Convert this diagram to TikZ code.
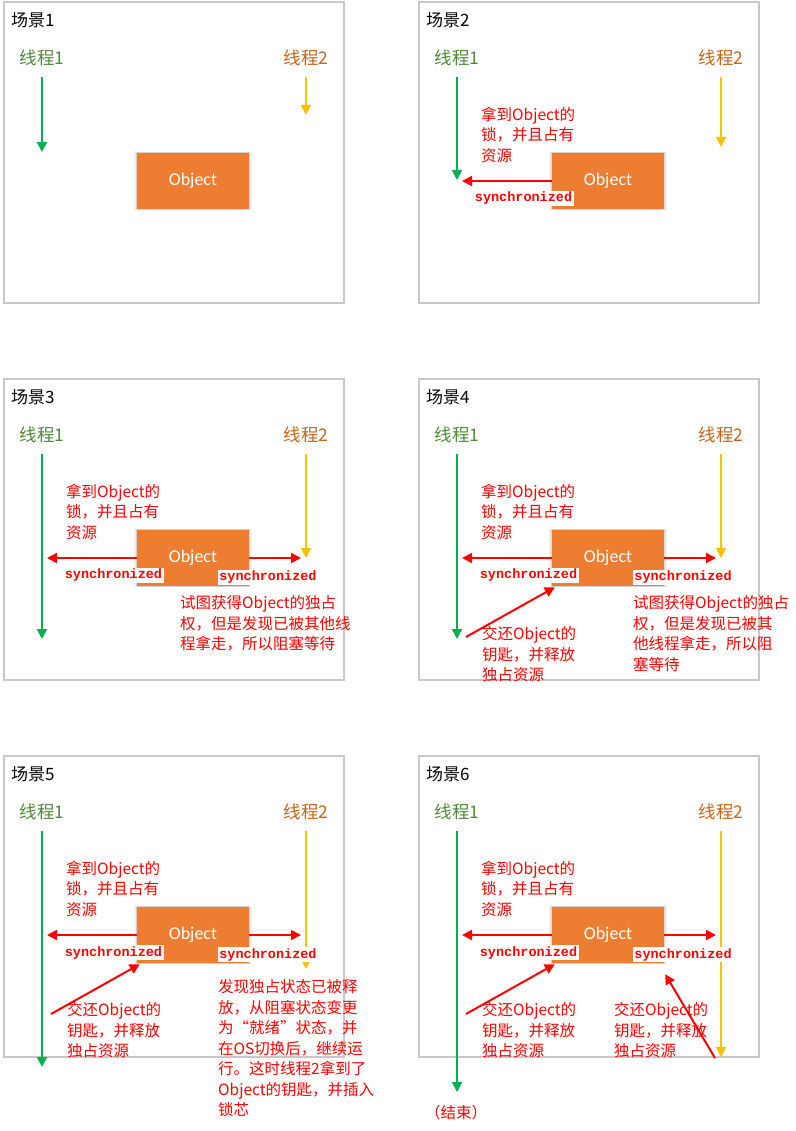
\documentclass[tikz,border=0pt]{standalone}
\usepackage{fontspec}
\usetikzlibrary{arrows.meta,shadows}
\newfontfamily\cjkf{Noto Sans CJK SC}
\newfontfamily\calf{Carlito}
\newfontfamily\monof{Liberation Mono}
\definecolor{boxgray}{HTML}{C8C8C8}
\definecolor{thgreen}{HTML}{00B050}
\definecolor{thyellow}{HTML}{FFC000}
\definecolor{lab1}{HTML}{4F8A3A}
\definecolor{lab2}{HTML}{C8651B}
\definecolor{objfill}{HTML}{ED7D31}
\tikzset{
  scenebox/.style={draw=boxgray, line width=2pt},
  title/.style={anchor=west, inner sep=0pt, font=\cjkf\fontsize{17}{20}\selectfont},
  th1lab/.style={inner sep=0pt, text=lab1, font=\cjkf\fontsize{17.5}{20}\selectfont},
  th2lab/.style={inner sep=0pt, text=lab2, font=\cjkf\fontsize{17.5}{20}\selectfont},
  thr1/.style={draw=thgreen, line width=2pt, -{Triangle[width=10pt,length=10pt]}},
  thr2/.style={draw=thyellow, line width=2pt, -{Triangle[width=10pt,length=10pt]}},
  objbox/.style={rectangle, fill=objfill, minimum width=112pt, minimum height=56pt, inner sep=0pt,
    text=white, font=\calf\fontsize{18}{20}\selectfont,
    drop shadow={shadow xshift=0pt,shadow yshift=0pt,shadow scale=1.05,fill=black,opacity=0.06},
    drop shadow={shadow xshift=0pt,shadow yshift=0pt,shadow scale=1.025,fill=black,opacity=0.12}},
  sync/.style={fill=white, text=red, inner sep=1.5pt, font=\monof\bfseries\fontsize{13.5}{15}\selectfont},
  note/.style={anchor=north west, inner sep=0pt, align=left, text=red, font=\cjkf\fontsize{15.5}{20.5}\selectfont},
  redarr/.style={draw=red, line width=2pt, -{Triangle[width=10pt,length=10pt]}},
}
\begin{document}
\begin{tikzpicture}[x=1pt,y=-1pt]
\useasboundingbox (0,0) rectangle (795,1131);
% ---------- Scene 1
\begin{scope}[shift={(4,2)}]
  \draw[scenebox] (0,0) rectangle (340,301);
  \node[title] (t1) at (7,18) {场景1};
  \node[th1lab] (a1) at (38,56) {线程1};
  \node[th2lab] (b1) at (302,56) {线程2};
  \coordinate (a1s) at (38,75); \coordinate (a1e) at (38,150);
  \coordinate (b1s) at (302,75); \coordinate (b1e) at (302,113);
  \draw[thr1] (a1s) -- (a1e);
  \draw[thr2] (b1s) -- (b1e);
  \node[objbox] (o1) at (189,179) {Object};
\end{scope}
% ---------- Scene 2
\begin{scope}[shift={(419,2)}]
  \draw[scenebox] (0,0) rectangle (340,301);
  \node[title] (t2) at (7,18) {场景2};
  \node[th1lab] (a2) at (38,56) {线程1};
  \node[th2lab] (b2) at (302,56) {线程2};
  \coordinate (a2s) at (38,75); \coordinate (a2e) at (38,178);
  \coordinate (b2s) at (302,75); \coordinate (b2e) at (302,145);
  \draw[thr1] (a2s) -- (a2e);
  \draw[thr2] (b2s) -- (b2e);
  \node[note] (n2) at (62,104.5) {拿到Object的\\锁，并且占有\\资源};
  \node[objbox] (o2) at (189,179) {Object};
  \coordinate (l2) at (43,179);
  \draw[redarr] (o2.west) -- (l2);
  \node[sync] (s2l) at (104.5,196.5) {synchronized};
\end{scope}
% ---------- Scene 3
\begin{scope}[shift={(4,379)}]
  \draw[scenebox] (0,0) rectangle (340,301);
  \node[title] (t3) at (7,18) {场景3};
  \node[th1lab] (a3) at (38,56) {线程1};
  \node[th2lab] (b3) at (302,56) {线程2};
  \coordinate (a3s) at (38,75); \coordinate (a3e) at (38,260);
  \coordinate (b3s) at (302,75); \coordinate (b3e) at (302,179);
  \draw[thr1] (a3s) -- (a3e);
  \draw[thr2] (b3s) -- (b3e);
  \node[note] (n3) at (62,104.5) {拿到Object的\\锁，并且占有\\资源};
  \node[objbox] (o3) at (189,179) {Object};
  \coordinate (l3) at (43,179); \coordinate (r3) at (297,179);
  \draw[redarr] (o3.west) -- (l3);
  \draw[redarr] (o3.east) -- (r3);
  \node[sync] (s3l) at (109.5,196.5) {synchronized};
  \node[sync] (s3r) at (264,198.5) {synchronized};
  \node[note] (m3) at (176,216.5) {试图获得Object的独占\\权，但是发现已被其他线\\程拿走，所以阻塞等待};
\end{scope}
% ---------- Scene 4
\begin{scope}[shift={(419,379)}]
  \draw[scenebox] (0,0) rectangle (340,301);
  \node[title] (t4) at (7,18) {场景4};
  \node[th1lab] (a4) at (38,56) {线程1};
  \node[th2lab] (b4) at (302,56) {线程2};
  \coordinate (a4s) at (38,75); \coordinate (a4e) at (38,260);
  \coordinate (b4s) at (302,75); \coordinate (b4e) at (302,179);
  \draw[thr1] (a4s) -- (a4e);
  \draw[thr2] (b4s) -- (b4e);
  \node[note] (n4) at (62,104.5) {拿到Object的\\锁，并且占有\\资源};
  \node[objbox] (o4) at (189,179) {Object};
  \coordinate (l4) at (43,179); \coordinate (r4) at (297,179);
  \draw[redarr] (o4.west) -- (l4);
  \draw[redarr] (o4.east) -- (r4);
  \node[sync] (s4l) at (109.5,196.5) {synchronized};
  \node[sync] (s4r) at (264,198.5) {synchronized};
  \node[note] (m4) at (214,216.5) {试图获得Object的独占\\权，但是发现已被其\\他线程拿走，所以阻\\塞等待};
  \node[note] (k4) at (63,247.5) {交还Object的\\钥匙，并释放\\独占资源};
  \coordinate (k4s) at (47,258);
  \draw[redarr] (k4s) -- ([shift={(3,1)}]o4.south west);
\end{scope}
% ---------- Scene 5
\begin{scope}[shift={(4,756)}]
  \draw[scenebox] (0,0) rectangle (340,301);
  \node[title] (t5) at (7,18) {场景5};
  \node[th1lab] (a5) at (38,56) {线程1};
  \node[th2lab] (b5) at (302,56) {线程2};
  \coordinate (a5s) at (38,75); \coordinate (a5e) at (38,311);
  \coordinate (b5s) at (302,75); \coordinate (b5e) at (302,213);
  \draw[thr1] (a5s) -- (a5e);
  \draw[thr2] (b5s) -- (b5e);
  \node[note] (n5) at (62,104.5) {拿到Object的\\锁，并且占有\\资源};
  \node[objbox] (o5) at (189,179) {Object};
  \coordinate (l5) at (43,179); \coordinate (r5) at (297,179);
  \draw[redarr] (o5.west) -- (l5);
  \draw[redarr] (o5.east) -- (r5);
  \node[sync] (s5l) at (109.5,196.5) {synchronized};
  \node[sync] (s5r) at (264,198.5) {synchronized};
  \node[note] (k5) at (63,246.5) {交还Object的\\钥匙，并释放\\独占资源};
  \coordinate (k5s) at (47,258);
  \draw[redarr] (k5s) -- ([shift={(3,1)}]o5.south west);
  \node[note] (m5) at (214,223.5) {发现独占状态已被释\\放，从阻塞状态变更\\为“就绪”状态，并\\在OS切换后，继续运\\行。这时线程2拿到了\\Object的钥匙，并插入\\锁芯};
\end{scope}
% ---------- Scene 6
\begin{scope}[shift={(419,756)}]
  \draw[scenebox] (0,0) rectangle (340,301);
  \node[title] (t6) at (7,18) {场景6};
  \node[th1lab] (a6) at (38,56) {线程1};
  \node[th2lab] (b6) at (302,56) {线程2};
  \coordinate (a6s) at (38,75); \coordinate (a6e) at (38,336);
  \coordinate (b6s) at (302,75); \coordinate (b6e) at (302,301);
  \draw[thr1] (a6s) -- (a6e);
  \draw[thr2] (b6s) -- (b6e);
  \node[note] (n6) at (62,104.5) {拿到Object的\\锁，并且占有\\资源};
  \node[objbox] (o6) at (189,179) {Object};
  \coordinate (l6) at (43,179); \coordinate (r6) at (297,179);
  \draw[redarr] (o6.west) -- (l6);
  \draw[redarr] (o6.east) -- (r6);
  \node[sync] (s6l) at (109.5,196.5) {synchronized};
  \node[sync] (s6r) at (264,198.5) {synchronized};
  \node[note] (k6) at (63,246.5) {交还Object的\\钥匙，并释放\\独占资源};
  \coordinate (k6s) at (47,258);
  \draw[redarr] (k6s) -- ([shift={(3,1)}]o6.south west);
  \node[note] (j6) at (195,246.5) {交还Object的\\钥匙，并释放\\独占资源};
  \coordinate (j6s) at (296,302);
  \draw[redarr] (j6s) -- ([shift={(1,11)}]o6.south east);
  \node[text=red, inner sep=0pt, font=\cjkf\fontsize{15.5}{18}\selectfont] (end6) at (37,357) {（结束）};
\end{scope}
\end{tikzpicture}
\end{document}
